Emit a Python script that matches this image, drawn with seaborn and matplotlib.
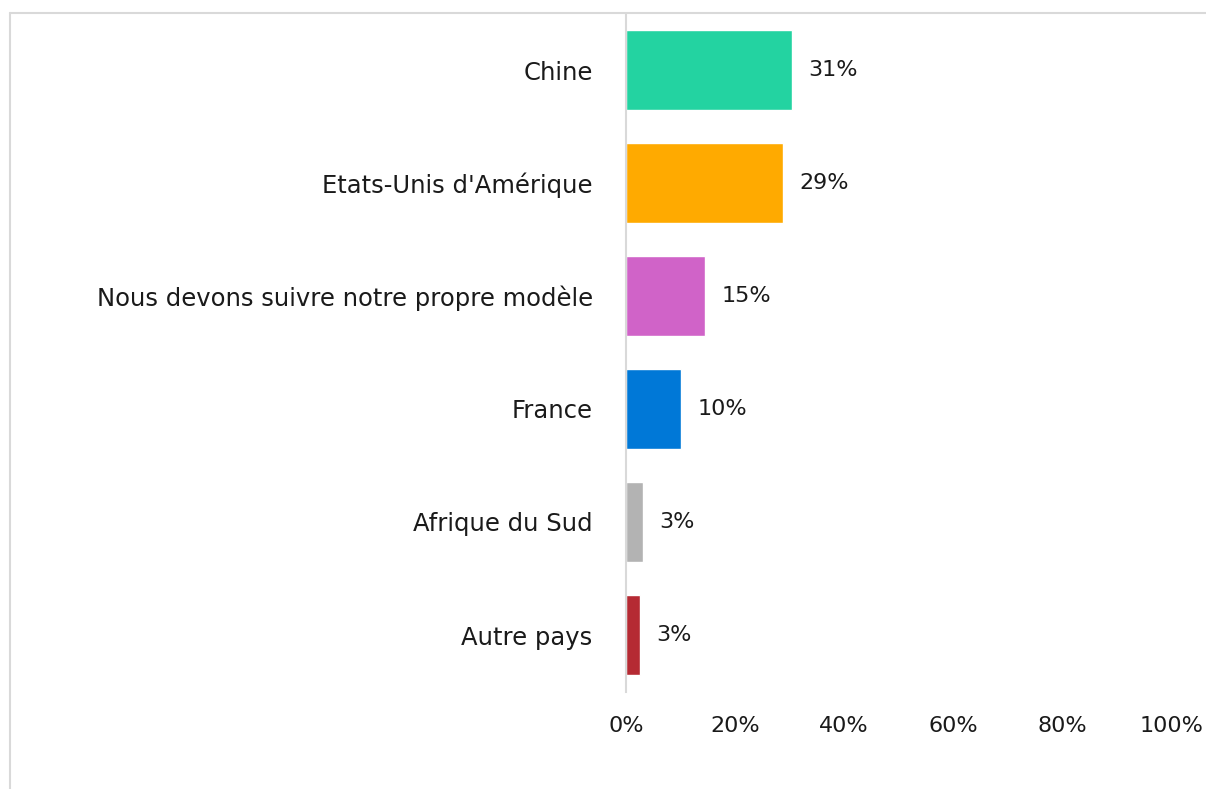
import pandas as pd
import matplotlib.pyplot as plt
import seaborn as sns
from matplotlib.lines import Line2D

# values
categories = ["Chine", "Etats-Unis d'Amérique", "Nous devons suivre notre propre modèle",
              "France", "Afrique du Sud", "Autre pays"]
values = [30.5, 28.8, 14.5, 10.1, 3.1, 2.6]
labels = ["31%", "29%", "15%", "10%", "3%", "3%"]
colors = ["#23D3A1", "#FFAA00", "#D063C8", "#0078D7", "#B3B3B3", "#B52A33"]

df = pd.DataFrame({"pays": categories, "pct": values})

sns.set_style("white")
plt.rcParams['font.family'] = ['DejaVu Sans']

fig = plt.figure(figsize=(12.06, 7.89), dpi=100)
ax = fig.add_axes([626 / 1206, 1 - 691.5 / 789, 545 / 1206, 678 / 789])

sns.barplot(data=df, x="pct", y="pays", hue="pays", palette=colors,
            width=0.71, legend=False, ax=ax, saturation=1)

for i, (v, lab) in enumerate(zip(values, labels)):
    ax.text(v + 3, i, lab, va="center", ha="left", fontsize=16, color="#1a1a1a")

ax.set_xlim(0, 100)
ax.set_xticks([0, 20, 40, 60, 80, 100])
ax.set_xticklabels(["0%", "20%", "40%", "60%", "80%", "100%"])
ax.set_xlabel("")
ax.set_ylabel("")
ax.tick_params(axis="x", labelsize=16, pad=18, length=0, colors="#1a1a1a")
ax.tick_params(axis="y", labelsize=17.5, pad=24, length=0, colors="#1a1a1a")

for s in ["top", "right", "bottom"]:
    ax.spines[s].set_visible(False)
ax.spines["left"].set_color("#D9D9D9")
ax.spines["left"].set_linewidth(1.5)

# light frame around the chart area
fig.add_artist(Line2D([10 / 1206, 1], [1 - 13 / 789, 1 - 13 / 789],
                      transform=fig.transFigure, color="#D9D9D9", lw=1.5))
fig.add_artist(Line2D([10 / 1206, 10 / 1206], [0, 1 - 13 / 789],
                      transform=fig.transFigure, color="#D9D9D9", lw=1.5))

fig.savefig("out.png", dpi=100)
